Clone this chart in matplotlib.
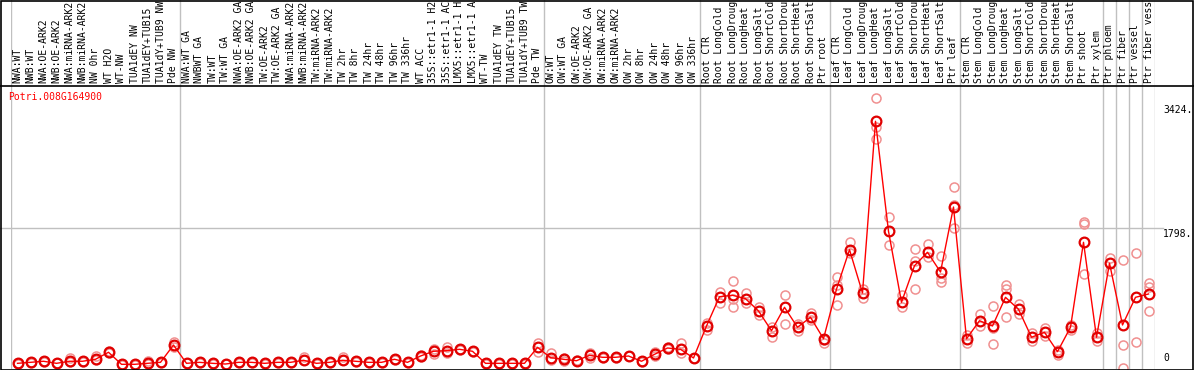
"""
Expression profile of Potri.008G164900 across the sample panel.
Means joined by a red line, replicates as faint circles.
"""
import matplotlib

matplotlib.use("Agg")
import matplotlib.pyplot as plt  # noqa: E402
from matplotlib.lines import Line2D  # noqa: E402

W, H = 1194, 370
GENE = "Potri.008G164900"

# sample names as they show in the header (cut to 14 characters there)
samples = [
    "NWA:WT", "NWB:WT", "NWA:OE-ARK2", "NWB:OE-ARK2", "NWA:miRNA-ARK2",
    "NWB:miRNA-ARK2", "NW 0hr", "WT H2O", "WT-NW", "TUA1dEY NW",
    "TUA1dEY+TUB15", "TUA1dY+TUB9 NW", "Pde NW",
    "NWA:WT GA", "NWBWT GA", "TW:WT", "TW:WT GA", "NWA:OE-ARK2 GA",
    "NWB:OE-ARK2 GA", "TW:OE-ARK2", "TW:OE-ARK2 GA", "NWA:miRNA-ARK2",
    "NWB:miRNA-ARK2", "TW:miRNA-ARK2", "TW:miRNA-ARK2", "TW 2hr", "TW 8hr",
    "TW 24hr", "TW 48hr", "TW 96hr", "TW 336hr", "WT ACC",
    "35S::etr1-1 H2", "35S::etr1-1 AC", "LMX5::etr1-1 H",
    "LMX5::etr1-1 A", "WT-TW", "TUA1dEY TW", "TUA1dEY+TUB15",
    "TUA1dY+TUB9 TW", "Pde TW",
    "OW:WT", "OW:WT GA", "OW:OE-ARK2", "OW:OE-ARK2 GA", "OW:miRNA-ARK2",
    "OW:miRNA-ARK2", "OW 2hr", "OW 8hr", "OW 24hr", "OW 48hr", "OW 96hr",
    "OW 336hr",
    "Root CTR", "Root LongCold", "Root LongDroug", "Root LongHeat",
    "Root LongSalt", "Root ShortCold", "Root ShortDrou", "Root ShortHeat",
    "Root ShortSalt", "Ptr root",
    "Leaf CTR", "Leaf LongCold", "Leaf LongDroug", "Leaf LongHeat",
    "Leaf LongSalt", "Leaf ShortCold", "Leaf ShortDrou", "Leaf ShortHeat",
    "Leaf ShortSalt", "Ptr leaf",
    "Stem CTR", "Stem LongCold", "Stem LongDroug", "Stem LongHeat",
    "Stem LongSalt", "Stem ShortCold", "Stem ShortDrou", "Stem ShortHeat",
    "Stem ShortSalt", "Ptr shoot", "Ptr xylem",
    "Ptr phloem", "Ptr fiber", "Ptr vessel", "Ptr fiber vess",
]

# first column index of each sample group (last entry = end)
group_starts = [0, 13, 41, 53, 63, 73, 84, 85, 86, 87, 88]

means = [
    22, 35, 49, 22, 49, 49, 75, 167, 9, 9, 22, 35, 262,
    22, 35, 22, 13, 35, 35, 22, 35, 35, 62, 22, 35, 62, 49, 35, 35, 75,
    35, 118, 180, 188, 206, 180, 22, 22, 22, 22, 232,
    96, 75, 56, 127, 101, 101, 118, 49, 140, 223, 206, 92,
    512, 896, 915, 870, 709, 450, 757, 495, 626, 345,
    995, 1513, 945, 3198, 1755, 823, 1303, 1479, 1220, 2073,
    344, 581, 512, 888, 731, 364, 429, 175, 495, 1610, 364,
    1335, 525, 888, 932,
]

replicates = [
    [18, 26], [30, 40], [45, 55], [20, 25], [40, 95], [45, 52], [60, 118],
    [188, 154], [5, 12], [5, 12], [15, 56], [30, 40], [302, 230],
    [20, 25], [30, 40], [10, 30], [10, 15], [30, 40], [30, 40], [18, 26],
    [30, 40], [30, 40], [62, 100], [18, 26], [30, 40], [62, 100], [45, 52],
    [30, 40], [30, 40], [70, 80], [30, 40], [110, 125], [214, 148],
    [240, 154], [200, 212], [175, 185], [18, 26], [18, 26], [18, 26],
    [18, 26], [289, 171],
    [157, 66], [96, 49], [50, 60], [154, 96], [95, 105], [95, 105],
    [112, 124], [45, 52], [167, 120], [240, 210], [289, 157], [88, 96],
    [547, 459], [958, 814], [1106, 765, 866], [949, 818], [757, 656],
    [503, 364], [919, 534], [538, 450], [678, 591], [293, 330],
    [1155, 1054, 783], [1610, 1470], [997, 879], [3504, 3119, 2966],
    [1938, 1571], [923, 757], [1518, 1369, 997], [1588, 1417],
    [1426, 1142, 1085], [2336, 2104, 1798],
    [293, 390], [669, 516], [774, 276, 490], [1050, 993, 626], [800, 669],
    [416, 319], [482, 385], [131, 200], [459, 530], [1846, 1870, 1194],
    [424, 319],
    [1408, 1237], [1378, 262, -45], [1466, 306], [1080, 1027, 713],
]

scale_values = [3424, 1798, 0]
scale_labels = ["3424.", "1798.", "0"]
grid_value = 1798

MONO = "DejaVu Sans Mono"
FS = 7.0


def px(x):
    return x / W


def py(y):
    return 1 - y / H


def main() -> None:
    fig = plt.figure(figsize=(W / 100, H / 100), dpi=100)
    x0, x1 = 11, 1155
    top, bot = 86, 369
    ax = fig.add_axes([px(x0), py(bot), px(x1 - x0), (bot - top) / H])
    lab = fig.add_axes([px(x0), py(top), px(x1 - x0), top / H], sharex=ax)
    n = len(samples)
    xs = list(range(n))

    for a in (ax, lab):
        a.set_xlim(-0.5, n - 0.5)
        a.axis("off")
        for g in group_starts:
            a.axvline(g - 0.5, color="#c0c0c0", lw=1.0, zorder=0)
    ax.set_ylim(-52.5, 3661)
    lab.set_ylim(0, 1)

    # replicate circles
    for i, reps in enumerate(replicates):
        ax.plot([i] * len(reps), reps, ls="none", marker="o", ms=6.5,
                mfc="none", mec="#f09090", mew=1.1, zorder=2, clip_on=True)
    ax.plot(xs, means, color="#ff0000", lw=1.0, zorder=3)
    ax.plot(xs, means, ls="none", marker="o", ms=7, mfc="none",
            mec="#e00000", mew=1.6, zorder=4)

    ax.axhline(grid_value, xmin=-x0 / (x1 - x0), xmax=(1163 - x0) / (x1 - x0),
               color="#c0c0c0", lw=1.0, zorder=0, clip_on=False)

    for v, t in zip(scale_values, scale_labels):
        va = "bottom" if v == 0 else "top"
        ax.text((1163 - x0) / (x1 - x0), v - 15 if v else 20, t,
                transform=ax.get_yaxis_transform(), ha="left", va=va,
                family=MONO, fontsize=FS, color="black")

    for i, s in enumerate(samples):
        lab.text(i, 0.035, s, rotation=90, ha="center", va="bottom",
                 family=MONO, fontsize=FS, color="black", clip_on=True)

    fig.text(px(8), py(97), GENE, ha="left", va="center", family=MONO,
             fontsize=FS, color="#ff0000")

    # frame and separator under the labels
    fig.add_artist(Line2D([0, 1], [py(top), py(top)], color="black", lw=1.2))
    fig.add_artist(plt.Rectangle((0.0005, py(bot) - 0.002), 0.9985,
                                 1 - py(bot) + 0.0005, fill=False,
                                 ec="black", lw=1.2))

    fig.savefig("out.png", dpi=100)


if __name__ == "__main__":
    main()
